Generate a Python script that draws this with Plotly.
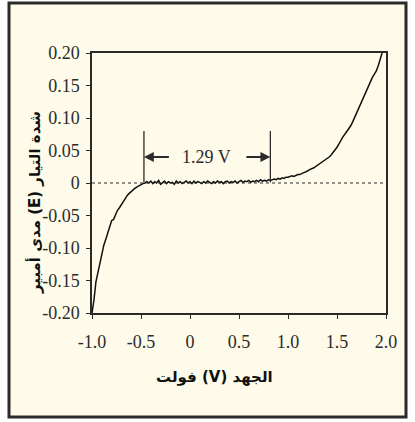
import plotly.graph_objects as go

# ---- data ----
voltage = [-1.00, -0.98, -0.96, -0.94, -0.92, -0.90, -0.88, -0.86, -0.84, -0.82,
           -0.80, -0.78, -0.76, -0.74, -0.72, -0.70, -0.68, -0.66, -0.64, -0.62,
           -0.60, -0.58, -0.56, -0.54, -0.52, -0.50, -0.48, -0.46, -0.44, -0.42,
           -0.40, -0.38, -0.36, -0.34, -0.32, -0.30, -0.28, -0.26, -0.24, -0.22,
           -0.20, -0.18, -0.16, -0.14, -0.12, -0.10, -0.08, -0.06, -0.04, -0.02,
           0.00, 0.02, 0.04, 0.06, 0.08, 0.10, 0.12, 0.14, 0.16, 0.18,
           0.20, 0.22, 0.24, 0.26, 0.28, 0.30, 0.32, 0.34, 0.36, 0.38,
           0.40, 0.42, 0.44, 0.46, 0.48, 0.50, 0.52, 0.54, 0.56, 0.58,
           0.60, 0.62, 0.64, 0.66, 0.68, 0.70, 0.72, 0.74, 0.76, 0.78,
           0.80, 0.82, 0.84, 0.86, 0.88, 0.90, 0.92, 0.94, 0.96, 0.98,
           1.00, 1.02, 1.04, 1.06, 1.08, 1.10, 1.12, 1.14, 1.16, 1.18,
           1.20, 1.22, 1.24, 1.26, 1.28, 1.30, 1.32, 1.34, 1.36, 1.38,
           1.40, 1.42, 1.44, 1.46, 1.48, 1.50, 1.52, 1.54, 1.56, 1.58,
           1.60, 1.62, 1.64, 1.66, 1.68, 1.70, 1.72, 1.74, 1.76, 1.78,
           1.80, 1.82, 1.84, 1.86, 1.88, 1.90, 1.92, 1.94, 1.96]
current = [-0.200, -0.180, -0.152, -0.138, -0.121, -0.107, -0.096, -0.087, -0.076, -0.066,
           -0.058, -0.056, -0.049, -0.042, -0.038, -0.033, -0.027, -0.024, -0.019, -0.016,
           -0.013, -0.011, -0.008, -0.006, -0.004, -0.002, -0.001, 0.000, 0.002, 0.000,
           0.003, -0.001, 0.002, 0.000, 0.004, -0.002, 0.001, 0.003, -0.001, 0.002,
           0.000, 0.001, -0.002, 0.003, 0.000, 0.002, -0.001, 0.001, 0.003, 0.000,
           0.002, -0.001, 0.003, 0.000, 0.002, 0.001, -0.001, 0.002, 0.000, 0.003,
           0.001, -0.001, 0.002, 0.000, 0.003, 0.001, 0.002, -0.001, 0.002, 0.003,
           0.000, 0.002, 0.001, 0.003, 0.000, 0.002, 0.004, 0.001, 0.003, 0.002,
           0.004, 0.001, 0.003, 0.002, 0.004, 0.002, 0.005, 0.003, 0.004, 0.003,
           0.005, 0.004, 0.005, 0.006, 0.005, 0.007, 0.006, 0.008, 0.007, 0.009,
           0.009, 0.010, 0.011, 0.010, 0.012, 0.013, 0.013, 0.015, 0.016, 0.017,
           0.019, 0.020, 0.022, 0.023, 0.025, 0.027, 0.029, 0.031, 0.033, 0.035,
           0.038, 0.040, 0.043, 0.047, 0.050, 0.055, 0.060, 0.066, 0.071, 0.075,
           0.079, 0.083, 0.088, 0.094, 0.101, 0.108, 0.114, 0.121, 0.128, 0.135,
           0.143, 0.150, 0.156, 0.162, 0.167, 0.172, 0.180, 0.190, 0.200]

x_tick_vals = [-1.0, -0.5, 0.0, 0.5, 1.0, 1.5, 2.0]
x_tick_text = ["-1.0", "-0.5", "0", "0.5", "1.0", "1.5", "2.0"]
y_tick_vals = [0.20, 0.15, 0.10, 0.05, 0.0, -0.05, -0.10, -0.15, -0.20]
y_tick_text = ["0.20", "0.15", "0.10", "0.05", "0", "-0.05", "-0.10", "-0.15", "-0.20"]

gap_start = -0.47
gap_end = 0.82
gap_label = "1.29 V"
x_title = "الجهد (V) فولت"
y_title = "شدة التيار (E) مدى أمبير"

RLE, PDF = "\u202B", "\u202C"

# ---- styling ----
cream = "#FEFBEA"
dark = "#2b2b2b"
serif = "Liberation Serif, Times New Roman, serif"
arabic = "DejaVu Sans, sans-serif"

W, H = 415, 422
L, T = 92, 53
PW, PH = 294, 260
R, B = W - L - PW, H - T - PH


def px_x(px):
    return (px - L) / PW


def px_y(py):
    return (T + PH - py) / PH


fig = go.Figure()
fig.add_trace(go.Scatter(x=voltage, y=current, mode="lines",
                         line=dict(color="#111111", width=1.5),
                         hoverinfo="skip", showlegend=False))

# outer frame
fig.add_shape(type="rect", xref="paper", yref="paper",
              x0=px_x(9), x1=px_x(406), y0=px_y(417), y1=px_y(3),
              line=dict(color=dark, width=3), fillcolor=cream, layer="below")

# zero dashed line
fig.add_shape(type="line", xref="x", yref="y", x0=-1.0, x1=2.0, y0=0, y1=0,
              line=dict(color=dark, width=1, dash="3px,3px"))

# vertical markers
for xv in (gap_start, gap_end):
    fig.add_shape(type="line", xref="x", yref="y", x0=xv, x1=xv, y0=0.001, y1=0.08,
                  line=dict(color=dark, width=1.3))

# arrows
fig.add_annotation(x=gap_start, y=0.04, ax=gap_start + 0.27, ay=0.04,
                   xref="x", yref="y", axref="x", ayref="y", text="",
                   showarrow=True, arrowhead=2, arrowsize=1.1, arrowwidth=1.8,
                   arrowcolor=dark)
fig.add_annotation(x=gap_end, y=0.04, ax=gap_end - 0.26, ay=0.04,
                   xref="x", yref="y", axref="x", ayref="y", text="",
                   showarrow=True, arrowhead=2, arrowsize=1.1, arrowwidth=1.8,
                   arrowcolor=dark)
fig.add_annotation(x=(gap_start + gap_end) / 2 - 0.01, y=0.04, xref="x", yref="y",
                   text=gap_label, showarrow=False,
                   font=dict(family=serif, size=18, color=dark))

# axis titles
fig.add_annotation(x=px_x(214), y=px_y(377), xref="paper", yref="paper",
                   text="<b>" + RLE + x_title + PDF + "</b>",
                   showarrow=False, font=dict(family=arabic, size=15, color="#111111"),
                   xanchor="center", yanchor="middle")
fig.add_annotation(x=px_x(34), y=px_y(203), xref="paper", yref="paper",
                   text="<b>" + RLE + y_title + PDF + "</b>",
                   showarrow=False, textangle=-90,
                   font=dict(family=arabic, size=15, color="#111111"),
                   xanchor="center", yanchor="middle")

fig.update_layout(
    width=W, height=H,
    margin=dict(l=L, r=R, t=T, b=B),
    paper_bgcolor="white", plot_bgcolor=cream,
    showlegend=False,
    xaxis=dict(range=[-1.0, 2.0], tickvals=x_tick_vals, ticktext=x_tick_text,
               showgrid=False, zeroline=False, showline=True, mirror=True,
               linecolor=dark, linewidth=1.5, ticks="outside", ticklen=4,
               tickcolor=dark, tickwidth=1.2, ticklabelstandoff=8,
               tickfont=dict(family=serif, size=18, color=dark)),
    yaxis=dict(range=[-0.20, 0.20], tickvals=y_tick_vals, ticktext=y_tick_text,
               showgrid=False, zeroline=False, showline=True, mirror=True,
               linecolor=dark, linewidth=1.5, ticks="outside", ticklen=4,
               tickcolor=dark, tickwidth=1.2, ticklabelstandoff=3,
               tickfont=dict(family=serif, size=18, color=dark)),
)

fig.write_html("out.html", config={"displayModeBar": False},
               post_script="document.body.style.margin='0';")
